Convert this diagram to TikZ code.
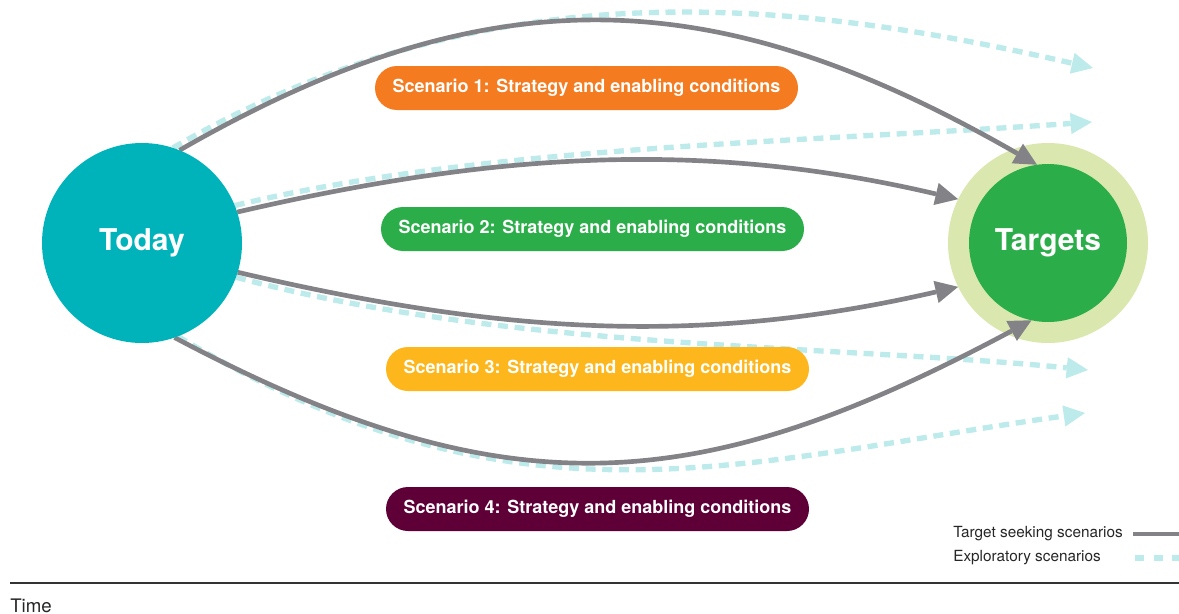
\documentclass[tikz,border=0pt]{standalone}
\usepackage{fontspec}
\setmainfont{TeX Gyre Heros}
\usetikzlibrary{arrows.meta}

\definecolor{todayteal}{HTML}{00B3BB}
\definecolor{targetgreen}{HTML}{2BAE4A}
\definecolor{targetring}{HTML}{DAE8AF}
\definecolor{scenorange}{HTML}{F47B20}
\definecolor{scengreen}{HTML}{2BAE4A}
\definecolor{scenyellow}{HTML}{FDB71C}
\definecolor{scenmaroon}{HTML}{5E0037}
\definecolor{pathgray}{HTML}{838387}
\definecolor{pathcyan}{HTML}{BDEAEA}
\definecolor{rulegray}{HTML}{333333}

% layers: goal circles at the back, scenario paths above them, the rest on top
\pgfdeclarelayer{goal}
\pgfdeclarelayer{paths}
\pgfsetlayers{goal,paths,main}

\tikzset{
  bigcircle/.style={circle, inner sep=0pt, outer sep=0pt, text=white,
    font=\fontsize{22.5}{26}\selectfont\bfseries},
  scenbox/.style={rectangle, rounded corners=16.5pt, inner sep=0pt, outer sep=0pt,
    minimum width=317.25pt, minimum height=33pt, text=white,
    font=\fontsize{13.5}{16}\selectfont\bfseries},
  seekpath/.style={draw=pathgray, line width=3.5pt,
    -{Triangle[length=17pt, width=17pt, line width=0pt]}},
  explorepath/.style={draw=pathcyan, line width=4pt, dash pattern=on 7.5pt off 5pt,
    -{Triangle[length=16pt, width=16pt, line width=0pt]}},
  legendtext/.style={anchor=west, inner sep=0pt, text=black!85,
    font=\fontsize{11.5}{13}\selectfont},
}

\begin{document}
\begin{tikzpicture}[x=0.75pt, y=-0.75pt]
\useasboundingbox (0,0) rectangle (1179,614);

% goal circles
\begin{pgfonlayer}{goal}
  \node[circle, fill=targetring, inner sep=0pt, outer sep=0pt, minimum size=150pt] (ring) at (1048,243) {};
  \node[bigcircle, fill=targetgreen, minimum size=118.5pt] (targets) at (1048,243) {Targets};
\end{pgfonlayer}

% starting point
\node[bigcircle, fill=todayteal, minimum size=150pt] (today) at (142,243) {Today};

% scenario labels
\node[scenbox, fill=scenorange] (scen1) at (586.5,88)  {Scenario 1: Strategy and enabling conditions};
\node[scenbox, fill=scengreen]  (scen2) at (592.5,229) {Scenario 2: Strategy and enabling conditions};
\node[scenbox, fill=scenyellow] (scen3) at (597.5,369) {Scenario 3: Strategy and enabling conditions};
\node[scenbox, fill=scenmaroon] (scen4) at (597.5,509) {Scenario 4: Strategy and enabling conditions};

% open ends of the exploratory paths
\coordinate (exA) at (1093,68);
\coordinate (exB) at (1092,122);
\coordinate (exC) at (1088,370);
\coordinate (exD) at (1085,413);

\begin{pgfonlayer}{paths}
  % exploratory scenarios
  \draw[explorepath] (today.72)  .. controls (493,-37) and (801,1)   .. (exA);
  \draw[explorepath] (today.22)  .. controls (482,146) and (792,143) .. (exB);
  \draw[explorepath] (today.-20) .. controls (505,350) and (840,345) .. (exC);
  \draw[explorepath] (today.-69) .. controls (518,540) and (738,462) .. (exD);
  % target seeking scenarios
  \draw[seekpath] (today.68)  .. controls (495,-31) and (720,-17) .. (targets.98);
  \draw[seekpath] (today.18)  .. controls (492,153) and (702,139) .. (ring.154);
  \draw[seekpath] (today.-17) .. controls (497,333) and (697,347) .. (ring.206);
  \draw[seekpath] (today.-71) .. controls (508,514) and (699,498) .. (targets.258);
\end{pgfonlayer}

% legend
\node[legendtext] (legseek) at (953,534) {Target seeking scenarios};
\node[legendtext] (legexpl) at (953,558) {Exploratory scenarios};
\coordinate (seekA) at (1133,534);
\coordinate (seekB) at (1179,534);
\coordinate (explA) at (1135,558);
\coordinate (explB) at (1179,558);
\draw[pathgray, line width=3.5pt] (seekA) -- (seekB);
\draw[pathcyan, line width=4pt, dash pattern=on 7pt off 7pt] (explA) -- (explB);

% time axis
\coordinate (axisL) at (10,583);
\coordinate (axisR) at (1179,583);
\draw[rulegray, line width=1.1pt] (axisL) -- (axisR);
\node[anchor=base west, inner sep=0pt, text=black!85, font=\fontsize{14}{16}\selectfont] (timelabel) at (10,612) {Time};
\end{tikzpicture}
\end{document}
